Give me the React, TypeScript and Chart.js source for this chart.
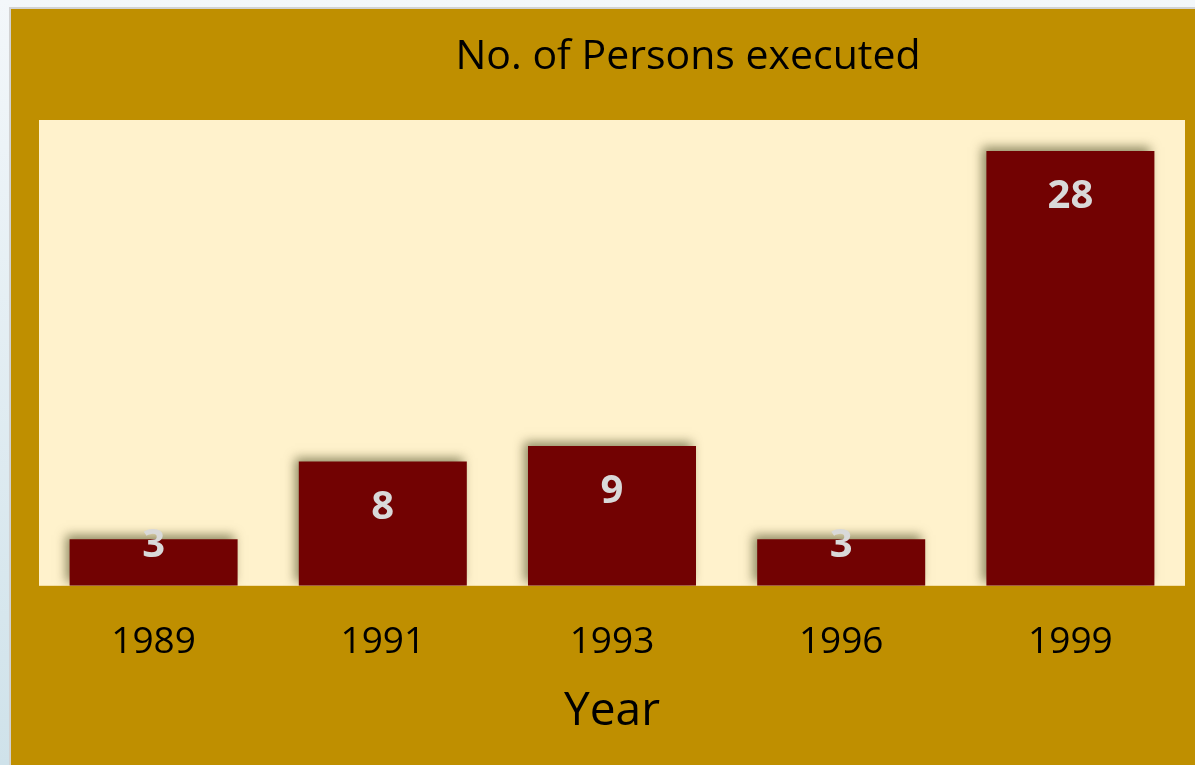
import React, { useEffect, useRef } from "react";
import { Chart, registerables } from "chart.js";

Chart.register(...registerables);

const categories: string[] = ["1989", "1991", "1993", "1996", "1999"];
const executed: number[] = [3, 8, 9, 3, 28];
const chartTitle = "No. of Persons executed";
const xAxisTitle = "Year";
const yMin = 0;
const yMax = 30;

const GOLD = "#BF8F00";
const CREAM = "#FFF2CC";
const BAR = "#720202";
const FONT = "'Open Sans', 'Noto Sans', sans-serif";

export default function App() {
  const ref = useRef<HTMLCanvasElement | null>(null);

  useEffect(() => {
    document.body.style.margin = "0";
    const canvas = ref.current;
    if (!canvas) return;

    const bgPlugin = {
      id: "areaBg",
      beforeDraw(chart: any) {
        const { ctx, chartArea } = chart;
        ctx.save();
        ctx.fillStyle = CREAM;
        ctx.fillRect(chartArea.left, chartArea.top, chartArea.right - chartArea.left, chartArea.bottom - chartArea.top);
        ctx.restore();
      },
      beforeDatasetsDraw(chart: any) {
        const ctx = chart.ctx;
        ctx.save();
        ctx.shadowColor = "rgba(70,70,30,0.6)";
        ctx.shadowBlur = 10;
        ctx.shadowOffsetX = -4;
        ctx.shadowOffsetY = -4;
      },
      afterDatasetsDraw(chart: any) {
        const ctx = chart.ctx;
        ctx.restore();
        const meta = chart.getDatasetMeta(0);
        const ds = chart.data.datasets[0];
        ctx.save();
        ctx.fillStyle = "#D9D9D9";
        ctx.font = `bold 40px ${FONT}`;
        ctx.textAlign = "center";
        ctx.textBaseline = "middle";
        meta.data.forEach((bar: any, i: number) => {
          const y = Math.min(bar.y + 46, bar.base - 40);
          ctx.fillText(String(ds.data[i]), bar.x, y);
        });
        ctx.restore();
        // title
        const { chartArea } = chart;
        ctx.save();
        ctx.fillStyle = "#000";
        ctx.font = `41px ${FONT}`;
        ctx.textAlign = "center";
        ctx.textBaseline = "middle";
        const cx = (chartArea.left + chartArea.right) / 2 + 76;
        ctx.fillText(chartTitle, cx, chartArea.top - 63);
        ctx.restore();
      },
    };

    const chart = new Chart(canvas, {
      type: "bar",
      data: {
        labels: categories,
        datasets: [
          {
            data: executed,
            backgroundColor: BAR,
            borderWidth: 0,
            categoryPercentage: 1,
            barPercentage: 0.733,
          },
        ],
      },
      options: {
        responsive: false,
        animation: false,
        layout: { padding: { left: 28, right: 10, top: 111, bottom: 26 } },
        plugins: {
          legend: { display: false },
          tooltip: { enabled: false },
          title: { display: false },
        },
        scales: {
          x: {
            grid: { display: false, drawTicks: false },
            border: { display: false },
            ticks: { color: "#000", font: { family: FONT, size: 37, lineHeight: 1.0 }, padding: 38 },
            title: {
              display: true,
              text: xAxisTitle,
              color: "#000",
              font: { family: FONT, size: 46 },
              padding: { top: -15, bottom: 0 },
            },
          },
          y: {
            display: false,
            min: yMin,
            max: yMax,
          },
        },
      },
      plugins: [bgPlugin],
    });
    return () => chart.destroy();
  }, []);

  return (
    <div
      style={{
        position: "fixed",
        left: 0,
        top: 0,
        width: 1195,
        height: 765,
        background: "linear-gradient(to bottom, #F3F7FA, #CFE2EA)",
        overflow: "hidden",
      }}
    >
      <div
        style={{
          position: "absolute",
          left: 9,
          top: 7,
          width: 1186,
          height: 758,
          background: "#D2D2D2",
        }}
      />
      <div
        style={{
          position: "absolute",
          left: 11,
          top: 9,
          width: 1184,
          height: 756,
          background: GOLD,
        }}
      >
        <canvas ref={ref} width={1184} height={756} style={{ display: "block" }} />
      </div>
    </div>
  );
}
